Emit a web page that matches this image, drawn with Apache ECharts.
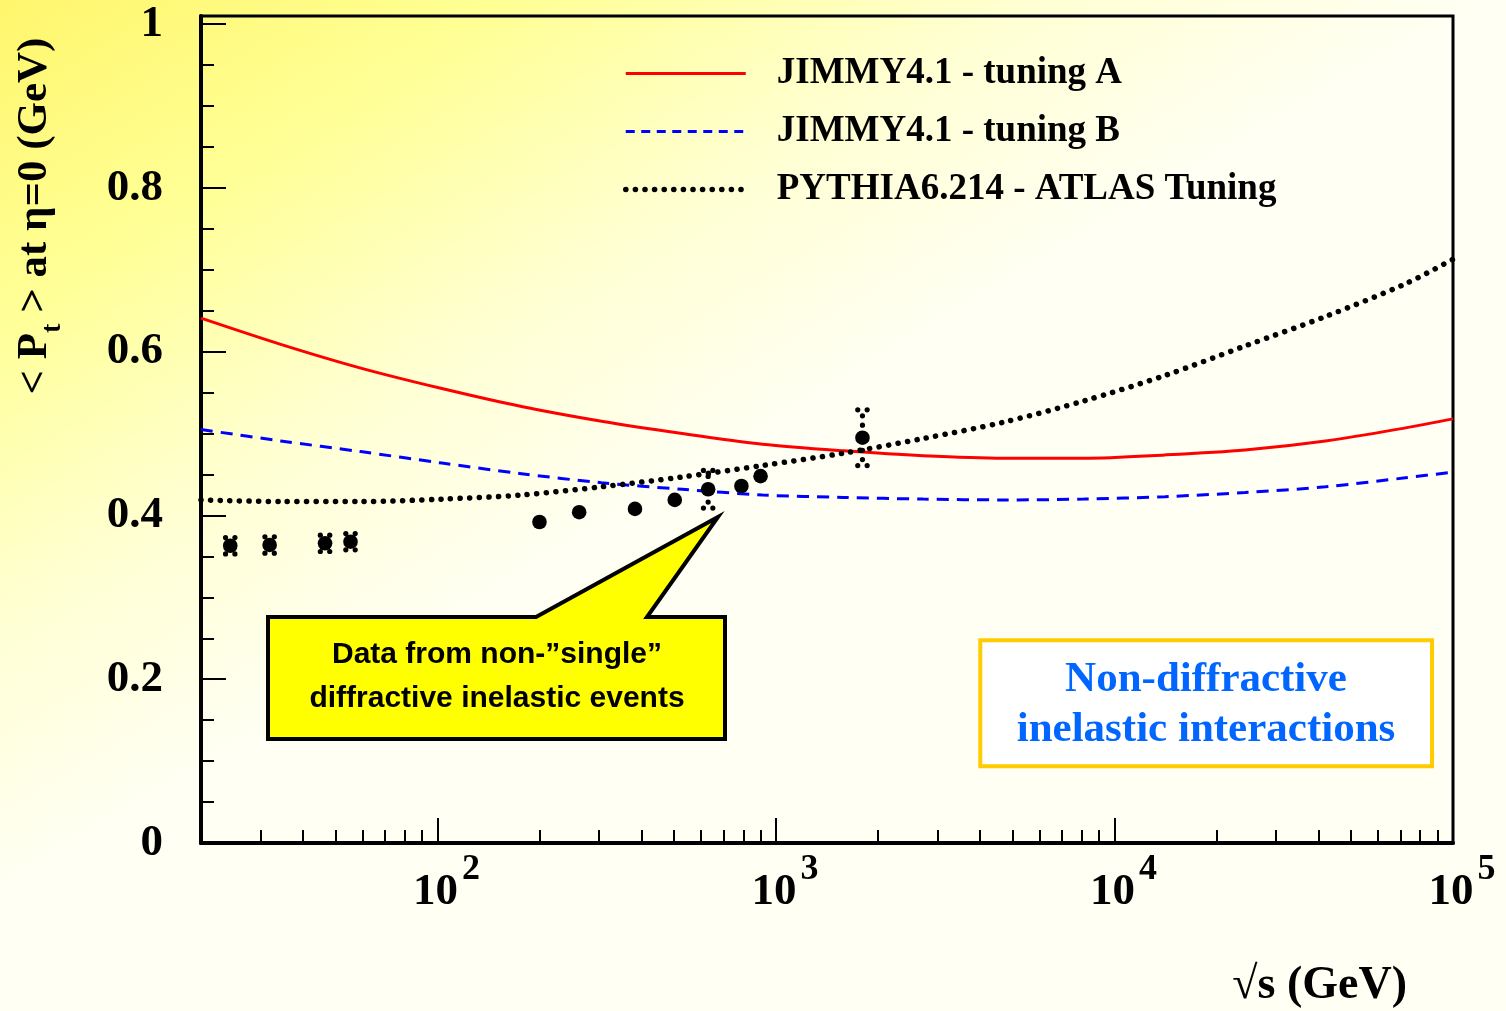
<!DOCTYPE html>
<html>
<head>
<meta charset="utf-8">
<script src="https://cdn.jsdelivr.net/npm/echarts@6/dist/echarts.min.js"></script>
<style>
  html, body { margin: 0; padding: 0; }
  #chart { width: 1506px; height: 1011px; }
</style>
</head>
<body>
<div id="chart"></div>
<script>
// Centre-of-mass energy grid (GeV) on which the model predictions are tabulated
const sqrtS = [20, 34.4, 59.3, 103, 177, 305, 528, 912, 1580, 2720, 4710, 8130, 14100, 24300, 42000, 72400, 100000];
// <Pt> at eta = 0 (GeV) for each model
const jimmyA = [0.641, 0.609, 0.580, 0.555, 0.533, 0.515, 0.500, 0.487, 0.479, 0.473, 0.470, 0.470, 0.474, 0.480, 0.491, 0.507, 0.518];
const jimmyB = [0.505, 0.491, 0.478, 0.464, 0.451, 0.440, 0.432, 0.425, 0.422, 0.420, 0.419, 0.420, 0.423, 0.428, 0.435, 0.446, 0.453];
const pythia = [0.419, 0.417, 0.417, 0.420, 0.425, 0.435, 0.447, 0.461, 0.476, 0.494, 0.514, 0.540, 0.571, 0.607, 0.643, 0.683, 0.713];

// Measurements: sqrt(s) (GeV), <Pt> (GeV) and its uncertainty
const dataSqrtS = [24.4, 31.9, 46.5, 55.3, 200, 262, 383, 502, 630, 790, 900, 1800];
const dataPt    = [0.363, 0.364, 0.366, 0.368, 0.392, 0.404, 0.408, 0.419, 0.432, 0.436, 0.448, 0.495];
const dataErr   = [0.010, 0.010, 0.010, 0.010, 0, 0, 0, 0, 0.023, 0, 0, 0.034];

// Axis ticks
const xMajorTicks = [100, 1000, 10000, 100000];
const xMinorTicks = [30, 40, 50, 60, 70, 80, 90,
                     200, 300, 400, 500, 600, 700, 800, 900,
                     2000, 3000, 4000, 5000, 6000, 7000, 8000, 9000,
                     20000, 30000, 40000, 50000, 60000, 70000, 80000, 90000];
const yMajorTicks = [0, 0.2, 0.4, 0.6, 0.8, 1];
const yMinorTicks = [0.05, 0.1, 0.15, 0.25, 0.3, 0.35, 0.45, 0.5, 0.55, 0.65, 0.7, 0.75, 0.85, 0.9, 0.95];

const seriesNames = ['JIMMY4.1 - tuning A', 'JIMMY4.1 - tuning B', 'PYTHIA6.214 - ATLAS Tuning'];

const SERIF = '"Liberation Serif", "Times New Roman", serif';
const SANS = '"Liberation Sans", Arial, sans-serif';

const styleA = { color: '#ff0000', width: 3 };
const styleB = { color: '#0000ff', width: 3, type: [12, 8] };
const styleP = { color: '#000000', width: 5.5, type: [0.1, 9.5], cap: 'round' };

const pair = (xs, ys) => xs.map((x, i) => [x, ys[i]]);

const chart = echarts.init(document.getElementById('chart'), null, { renderer: 'canvas' });

// Measured points: filled circle plus dotted error bar with two-dot caps
function renderPoint(params, api) {
  const x = api.value(0), y = api.value(1), e = api.value(2);
  const p = api.coord([x, y]);
  const R = 7.3, r = 2.6, capHalf = 4.7, step = 9.3;
  const kids = [];
  if (e > 0) {
    const top = api.coord([x, y + e])[1];
    const bot = api.coord([x, y - e])[1];
    [top, bot].forEach(yy => {
      kids.push({ type: 'circle', shape: { cx: p[0] - capHalf, cy: yy, r: r }, style: { fill: '#000' } });
      kids.push({ type: 'circle', shape: { cx: p[0] + capHalf, cy: yy, r: r }, style: { fill: '#000' } });
    });
    for (let yy = top + 6; yy < p[1] - R; yy += step) {
      kids.push({ type: 'circle', shape: { cx: p[0], cy: yy, r: r }, style: { fill: '#000' } });
    }
    for (let yy = bot - 6; yy > p[1] + R; yy -= step) {
      kids.push({ type: 'circle', shape: { cx: p[0], cy: yy, r: r }, style: { fill: '#000' } });
    }
  }
  kids.push({ type: 'circle', shape: { cx: p[0], cy: p[1], r: R }, style: { fill: '#000' } });
  return { type: 'group', children: kids };
}

const option = {
  animation: false,
  backgroundColor: {
    type: 'linear', x: 0, y: 0, x2: 397, y2: 662, global: true,
    colorStops: [
      { offset: 0, color: '#fff66c' },
      { offset: 0.35, color: '#ffff96' },
      { offset: 0.7, color: '#ffffd4' },
      { offset: 1, color: '#fffff4' }
    ]
  },
  grid: {
    left: 201, right: 53, top: 16, bottom: 168,
    show: true, borderColor: '#000', borderWidth: 3, backgroundColor: 'transparent'
  },
  xAxis: [
    {
      type: 'log', logBase: 10, min: 20, max: 100000, position: 'bottom',
      axisLine: { show: true, onZero: false, lineStyle: { color: '#000', width: 4 } },
      axisTick: { show: true, inside: true, length: 25, customValues: xMajorTicks, lineStyle: { color: '#000', width: 2 } },
      axisLabel: {
        show: true, customValues: xMajorTicks, margin: 9,
        formatter: v => '{s|}{b|10}{e|' + Math.round(Math.log10(v)) + '}',
        rich: {
          s: { width: 18 },
          b: { fontFamily: SERIF, fontWeight: 'bold', fontSize: 45, color: '#000', lineHeight: 80, verticalAlign: 'middle' },
          e: { fontFamily: SERIF, fontWeight: 'bold', fontSize: 36, color: '#000', lineHeight: 30, verticalAlign: 'top', padding: [0, 0, 0, 4] }
        }
      },
      splitLine: { show: false }, minorTick: { show: false }, minorSplitLine: { show: false }
    },
    {
      type: 'log', logBase: 10, min: 20, max: 100000, position: 'bottom',
      axisLine: { show: false },
      axisTick: { show: true, inside: true, length: 13, customValues: xMinorTicks, lineStyle: { color: '#000', width: 2 } },
      axisLabel: { show: false },
      splitLine: { show: false }
    }
  ],
  yAxis: [
    {
      type: 'value', min: 0, max: 1.01, position: 'left',
      axisLine: { show: true, onZero: false, lineStyle: { color: '#000', width: 4 } },
      axisTick: { show: true, inside: true, length: 25, customValues: yMajorTicks, lineStyle: { color: '#000', width: 2 } },
      axisLabel: {
        show: true, customValues: yMajorTicks, margin: 38,
        fontFamily: SERIF, fontWeight: 'bold', fontSize: 45, color: '#000'
      },
      splitLine: { show: false }
    },
    {
      type: 'value', min: 0, max: 1.01, position: 'left', offset: 0,
      axisLine: { show: false },
      axisTick: { show: true, inside: true, length: 13, customValues: yMinorTicks, lineStyle: { color: '#000', width: 2 } },
      axisLabel: { show: false },
      splitLine: { show: false }
    }
  ],
  legend: {
    orient: 'vertical', left: 623, top: 55, padding: 0,
    itemWidth: 120, itemHeight: 37, itemGap: 21,
    selectedMode: false,
    data: [
      { name: seriesNames[0], lineStyle: styleA },
      { name: seriesNames[1], lineStyle: { color: '#0000ff', width: 3, type: [9, 6.5] } },
      { name: seriesNames[2], lineStyle: styleP }
    ],
    itemStyle: { color: 'transparent', borderColor: 'transparent', borderWidth: 0 },
    textStyle: { fontFamily: SERIF, fontWeight: 'bold', fontSize: 37, color: '#000', padding: [0, 0, 0, 26] }
  },
  series: [
    {
      name: seriesNames[0], type: 'line', data: pair(sqrtS, jimmyA),
      symbol: 'none', smooth: 0.3,
      lineStyle: styleA, itemStyle: { color: '#ff0000' }, z: 3
    },
    {
      name: seriesNames[1], type: 'line', data: pair(sqrtS, jimmyB),
      symbol: 'none', smooth: 0.3,
      lineStyle: styleB, itemStyle: { color: '#0000ff' }, z: 3
    },
    {
      name: seriesNames[2], type: 'line', data: pair(sqrtS, pythia),
      symbol: 'none', smooth: 0.3,
      lineStyle: styleP, itemStyle: { color: '#000' }, z: 3
    },
    {
      name: 'data', type: 'custom', renderItem: renderPoint,
      data: dataSqrtS.map((s, i) => [s, dataPt[i], dataErr[i]]),
      encode: { x: 0, y: 1 }, z: 4, clip: false
    }
  ],
  graphic: [
    // Y-axis title
    {
      type: 'text', x: 35, y: 216, rotation: Math.PI / 2, z: 10,
      style: {
        text: '{a|< P}{s|t}{a| > at η=0 (GeV)}',
        align: 'center', verticalAlign: 'middle',
        rich: {
          a: { fontFamily: SERIF, fontWeight: 'bold', fontSize: 43, fill: '#000', lineHeight: 64, verticalAlign: 'middle' },
          s: { fontFamily: SERIF, fontWeight: 'bold', fontSize: 28, fill: '#000', lineHeight: 28, verticalAlign: 'bottom' }
        }
      }
    },
    // X-axis title
    {
      type: 'text', x: 1407, y: 986, z: 10,
      style: {
        text: '√s (GeV)', align: 'right', verticalAlign: 'middle',
        font: 'bold 46px ' + SERIF, fill: '#000'
      }
    },
    // Call-out balloon
    {
      type: 'polygon', z: 20,
      shape: { points: [[268, 617], [536, 617], [718, 517], [647, 617], [725, 617], [725, 739], [268, 739]] },
      style: { fill: '#ffff00', stroke: '#000', lineWidth: 4, lineJoin: 'miter' }
    },
    {
      type: 'text', x: 497, y: 677, z: 21,
      style: {
        text: 'Data from non-”single”\ndiffractive inelastic events',
        align: 'center', verticalAlign: 'middle', lineHeight: 44,
        font: 'bold 30px ' + SANS, fill: '#000'
      }
    },
    // Process box
    {
      type: 'rect', z: 20,
      shape: { x: 980.3, y: 640.3, width: 451.7, height: 126 },
      style: { fill: '#ffffff', stroke: '#ffcc00', lineWidth: 4 }
    },
    {
      type: 'text', x: 1206, y: 705, z: 21,
      style: {
        text: 'Non-diffractive\ninelastic interactions',
        align: 'center', verticalAlign: 'middle', lineHeight: 50,
        font: 'bold 43px ' + SERIF, fill: '#0066ff'
      }
    }
  ]
};

chart.setOption(option);
</script>
</body>
</html>
